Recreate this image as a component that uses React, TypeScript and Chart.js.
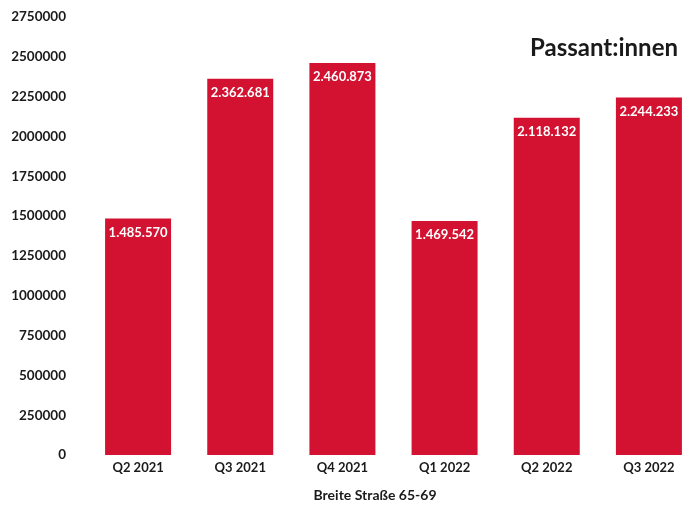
import React, { useEffect, useRef } from "react";
import { Chart, registerables } from "chart.js";

Chart.register(...registerables);

const categories = ["Q2 2021", "Q3 2021", "Q4 2021", "Q1 2022", "Q2 2022", "Q3 2022"];
const passanten = [1485570, 2362681, 2460873, 1469542, 2118132, 2244233];
const yTicks = [0, 250000, 500000, 750000, 1000000, 1250000, 1500000, 1750000, 2000000, 2250000, 2500000, 2750000];
const chartTitle = "Passant:innen";
const xTitle = "Breite Straße 65-69";

const FONT = "Lato, 'Open Sans', sans-serif";
const RED = "#D31130";
const TEXT = "#1a1a1a";

const fmt = (v: number) => v.toString().replace(/\B(?=(\d{3})+(?!\d))/g, ".");

const overlayPlugin = {
  id: "overlay",
  afterDatasetsDraw(chart: any) {
    const ctx = chart.ctx;
    const meta = chart.getDatasetMeta(0);
    ctx.save();
    ctx.fillStyle = "#ffffff";
    ctx.font = `bold 13px ${FONT}`;
    ctx.textAlign = "center";
    ctx.textBaseline = "middle";
    meta.data.forEach((bar: any, i: number) => {
      ctx.fillText(fmt(passanten[i]), bar.x, bar.y + 14);
    });
    ctx.fillStyle = TEXT;
    ctx.font = `bold 24px ${FONT}`;
    ctx.textAlign = "right";
    ctx.fillText(chartTitle, chart.chartArea.right - 22, chart.chartArea.top + 31);
    ctx.font = `bold 14px ${FONT}`;
    ctx.textAlign = "center";
    ctx.fillText(xTitle, 375, chart.height - 14);
    ctx.restore();
  },
};

export default function App() {
  const ref = useRef<HTMLCanvasElement>(null);
  useEffect(() => {
    if (!ref.current) return;
    const chart = new Chart(ref.current, {
      type: "bar",
      data: {
        labels: categories,
        datasets: [
          {
            data: passanten,
            backgroundColor: RED,
            borderWidth: 0,
            categoryPercentage: 1,
            barPercentage: 0.646,
          },
        ],
      },
      options: {
        responsive: false,
        animation: false,
        layout: { padding: { top: 17, right: 10, left: 0, bottom: 0 } },
        plugins: { legend: { display: false }, tooltip: { enabled: false }, title: { display: false } },
        scales: {
          y: {
            min: 0,
            max: 2750000,
            grid: { display: false, drawTicks: false },
            border: { display: false },
            afterFit: (s: any) => {
              s.width = 87;
              s.paddingTop = 0;
              s.paddingBottom = 0;
            },
            afterBuildTicks: (s: any) => {
              s.ticks = yTicks.map((v) => ({ value: v }));
            },
            ticks: {
              padding: 21,
              color: TEXT,
              font: { family: FONT, weight: "bold", size: 13.5 },
              callback: (v: any) => String(v),
            },
          },
          x: {
            grid: { display: false, drawTicks: false },
            border: { display: false },
            afterFit: (s: any) => {
              s.height = 54;
            },
            ticks: {
              padding: 5,
              color: TEXT,
              font: { family: FONT, weight: "bold", size: 13 },
            },
          },
        },
      },
      plugins: [overlayPlugin],
    });
    return () => chart.destroy();
  }, []);
  return (
    <div style={{ position: "fixed", left: 0, top: 0, width: 690, height: 509, overflow: "hidden", background: "#fff" }}>
      <canvas ref={ref} width={710} height={509} style={{ display: "block" }} />
    </div>
  );
}
